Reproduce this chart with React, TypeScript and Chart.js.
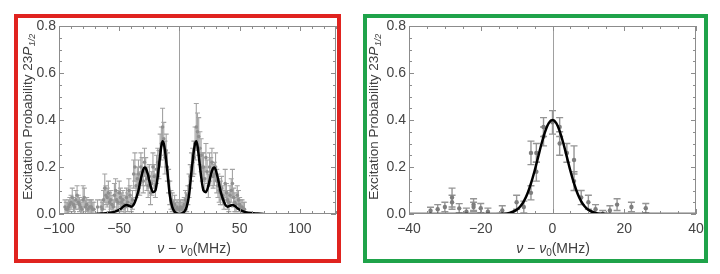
import React, { useEffect, useRef } from "react";
import { Chart, registerables } from "chart.js";
Chart.register(...registerables);

// ---------- Data (left panel) : even-MHz scan points ----------
const leftX = [-94,-92,-90,-88,-86,-84,-82,-80,-78,-76,-74,-72,-68,-64,-62,-60,-58,-56,-54,-52,-50,-48,-46,-44,-42,-40,-38,-36,-34,-32,-30,-28,-26,-24,-22,-20,-18,-16,-14,-12,-10,-8,-6,-4,-2,0,2,4,6,8,10,12,14,16,18,20,22,24,26,28,30,32,34,36,38,40,42,44,46,48,50,52,54];
const leftY = [0.02,0.03,0.05,0.04,0.06,0.05,0.03,0.06,0.03,0.02,0.03,0.02,0.03,0.02,0.11,0.07,0.05,0.04,0.08,0.06,0.09,0.05,0.04,0.07,0.1,0.04,0.17,0.12,0.17,0.2,0.14,0.18,0.12,0.09,0.2,0.12,0.22,0.27,0.37,0.24,0.2,0.09,0.05,0.04,0.03,0.02,0.02,0.04,0.05,0.12,0.2,0.24,0.37,0.33,0.25,0.2,0.24,0.12,0.18,0.16,0.2,0.12,0.09,0.08,0.13,0.06,0.08,0.13,0.05,0.08,0.04,0.03,0.02];
const leftErr = [0.03,0.03,0.03,0.03,0.04,0.03,0.03,0.06,0.03,0.03,0.03,0.03,0.03,0.03,0.06,0.04,0.04,0.04,0.05,0.04,0.05,0.04,0.04,0.04,0.05,0.03,0.06,0.05,0.06,0.06,0.05,0.06,0.05,0.05,0.06,0.05,0.06,0.07,0.08,0.07,0.06,0.05,0.04,0.04,0.03,0.03,0.03,0.03,0.04,0.05,0.06,0.07,0.1,0.08,0.07,0.06,0.06,0.05,0.06,0.05,0.06,0.05,0.05,0.04,0.06,0.04,0.04,0.06,0.04,0.04,0.03,0.03,0.03];
// ---------- Data (left panel) : odd-MHz scan points ----------
const leftXOdd = [-95,-93,-91,-89,-87,-85,-83,-81,-79,-77,-75,-73,-71,-65,-63,-61,-59,-57,-55,-53,-51,-49,-47,-45,-43,-41,-39,-37,-35,-33,-31,-29,-27,-25,-23,-21,-19,-17,-15,-13,-11,-9,-7,-5,-3,-1,1,3,5,7,9,11,13,15,17,19,21,23,25,27,29,31,33,35,37,39,41,43,45,47,49,51,53];
const leftYOdd = [0.03,0.02,0.04,0.07,0.03,0.08,0.04,0.02,0.07,0.04,0.03,0.03,0.02,0.03,0.06,0.08,0.09,0.06,0.03,0.1,0.05,0.07,0.06,0.03,0.05,0.08,0.06,0.2,0.15,0.13,0.18,0.22,0.15,0.16,0.13,0.16,0.19,0.21,0.3,0.32,0.27,0.14,0.06,0.03,0.02,0.02,0.03,0.03,0.06,0.08,0.16,0.22,0.3,0.35,0.28,0.2,0.15,0.18,0.2,0.22,0.17,0.14,0.1,0.11,0.06,0.09,0.05,0.1,0.07,0.04,0.06,0.03,0.02];
const leftErrOdd = [0.03,0.03,0.03,0.04,0.03,0.04,0.03,0.03,0.04,0.03,0.03,0.03,0.03,0.03,0.04,0.04,0.05,0.04,0.03,0.05,0.04,0.04,0.04,0.03,0.04,0.04,0.04,0.06,0.05,0.05,0.06,0.06,0.05,0.05,0.05,0.05,0.06,0.06,0.07,0.07,0.07,0.05,0.04,0.03,0.03,0.03,0.03,0.03,0.04,0.04,0.05,0.06,0.07,0.08,0.07,0.06,0.05,0.05,0.06,0.06,0.05,0.05,0.05,0.05,0.04,0.04,0.04,0.05,0.04,0.03,0.04,0.03,0.03];
const leftCurveX = [-70,-65,-60,-55,-52,-50,-48,-46,-44,-42,-40,-38,-36,-34,-32,-30,-29,-28,-26,-24,-22,-20,-18,-16,-15,-14,-13,-12,-10,-8,-6,-4,-2,0,2,4,6,8,10,12,13,14,15,16,18,20,22,24,26,28,29,30,32,34,36,38,40,42,44,46,48,50,52,55,60,65,70];
const leftCurveY = [0.0,0.002,0.004,0.008,0.013,0.018,0.025,0.034,0.038,0.035,0.031,0.04,0.065,0.1,0.15,0.19,0.198,0.195,0.165,0.12,0.093,0.1,0.16,0.25,0.29,0.31,0.3,0.27,0.18,0.08,0.03,0.01,0.003,0.0,0.003,0.01,0.03,0.08,0.18,0.27,0.3,0.31,0.29,0.25,0.16,0.1,0.093,0.12,0.165,0.195,0.198,0.19,0.15,0.1,0.065,0.04,0.031,0.035,0.038,0.034,0.025,0.018,0.013,0.008,0.004,0.002,0.0];
const leftXTicks = [-100, -50, 0, 50, 100];

// ---------- Data (right panel) ----------
const rightX = [-34,-32,-30,-28,-28,-26,-24,-22,-22,-20,-18,-14,-10,-8,-6,-6,-4.5,-4.5,-2.5,-2.5,0,2,2,4,6,6,8,10,12,14,16,18,22,26];
const rightY = [0.014,0.02,0.03,0.07,0.05,0.024,0.01,0.04,0.03,0.025,0.01,0.015,0.05,0.03,0.09,0.26,0.18,0.26,0.33,0.37,0.39,0.3,0.37,0.26,0.23,0.14,0.07,0.05,0.02,0.0,0.015,0.04,0.03,0.025];
const rightErr = [0.015,0.02,0.02,0.04,0.03,0.02,0.015,0.025,0.02,0.02,0.015,0.02,0.03,0.025,0.03,0.05,0.04,0.04,0.04,0.04,0.05,0.05,0.04,0.04,0.06,0.04,0.03,0.03,0.02,0.015,0.02,0.025,0.02,0.02];
const rightCurveX = [-40,-30,-20,-16,-14,-12,-10,-9,-8,-7,-6,-5,-4,-3,-2,-1,0,1,2,3,4,5,6,7,8,9,10,12,14,16,20,30,40];
const rightCurveY = [0,0,0,0.0002,0.001,0.0044,0.0176,0.032,0.054,0.086,0.13,0.183,0.243,0.302,0.353,0.388,0.4,0.388,0.353,0.302,0.243,0.183,0.13,0.086,0.054,0.032,0.0176,0.0044,0.001,0.0002,0,0,0];
const rightXTicks = [-40, -20, 0, 20, 40];

const yTicks = [0, 0.2, 0.4, 0.6, 0.8];

const FONT = "'Liberation Sans', Arial, sans-serif";
const TEXT = "#444444";
const GRAY = "#8c8c8c";

type Panel = {
  xMin: number; xMax: number; xTicks: number[]; xMinor: number;
  xs: number[]; ys: number[]; errs: number[];
  cx: number[]; cy: number[];
  yAxisW: number; cap: number; yTitleX: number; xTitleX: number;
  barColor: string; barWidth: number; ptColor: string; ptRadius: number;
};

function fmt(v: number) {
  return v < 0 ? "\u2212" + Math.abs(v) : String(v);
}

function makeDecor(p: Panel) {
  return {
    id: "decor",
    beforeDatasetsDraw(chart: any) {
      const { ctx, chartArea: a, scales } = chart;
      const x = scales.x, y = scales.y;
      ctx.save();
      ctx.beginPath();
      ctx.rect(a.left, a.top, a.right - a.left, a.bottom - a.top);
      ctx.clip();
      const x0 = Math.round(x.getPixelForValue(0)) + 0.5;
      ctx.strokeStyle = "#a0a0a0";
      ctx.lineWidth = 1;
      ctx.beginPath(); ctx.moveTo(x0, a.top); ctx.lineTo(x0, a.bottom); ctx.stroke();
      ctx.strokeStyle = p.barColor;
      ctx.lineWidth = p.barWidth;
      for (let i = 0; i < p.xs.length; i++) {
        const px = x.getPixelForValue(p.xs[i]);
        const lo = y.getPixelForValue(p.ys[i] - p.errs[i]);
        const hi = y.getPixelForValue(p.ys[i] + p.errs[i]);
        ctx.beginPath();
        ctx.moveTo(px, lo); ctx.lineTo(px, hi);
        ctx.moveTo(px - p.cap, lo); ctx.lineTo(px + p.cap, lo);
        ctx.moveTo(px - p.cap, hi); ctx.lineTo(px + p.cap, hi);
        ctx.stroke();
      }
      ctx.restore();
    },
    afterDraw(chart: any) {
      const { ctx, chartArea: a, scales } = chart;
      const x = scales.x, y = scales.y;
      ctx.save();
      ctx.strokeStyle = GRAY;
      ctx.lineWidth = 1;
      ctx.strokeRect(a.left + 0.5, a.top + 0.5, a.right - a.left - 1, a.bottom - a.top - 1);
      ctx.beginPath();
      for (let v = Math.ceil(p.xMin / p.xMinor) * p.xMinor; v <= p.xMax + 1e-9; v += p.xMinor) {
        const major = p.xTicks.some((t) => Math.abs(t - v) < 1e-9);
        const len = major ? 5 : 3;
        const px = Math.round(x.getPixelForValue(v)) + 0.5;
        ctx.moveTo(px, a.bottom); ctx.lineTo(px, a.bottom - len);
        ctx.moveTo(px, a.top); ctx.lineTo(px, a.top + len);
      }
      for (let k = 0; k <= 16; k++) {
        const v = k * 0.05;
        const major = k % 4 === 0;
        const len = major ? 5 : 3;
        const py = Math.round(y.getPixelForValue(v)) + 0.5;
        ctx.moveTo(a.left, py); ctx.lineTo(a.left + len, py);
        ctx.moveTo(a.right, py); ctx.lineTo(a.right - len, py);
      }
      ctx.stroke();

      // Y axis title (rotated, rich text)
      ctx.fillStyle = "#404040";
      ctx.textBaseline = "alphabetic";
      const fs = 13.5;
      const nf = `${fs}px ${FONT}`;
      const itf = `italic ${fs}px ${FONT}`;
      const sf = `italic ${Math.round(fs * 0.7)}px ${FONT}`;
      const parts: [string, string, number][] = [
        ["Excitation Probability 23", nf, 0],
        ["P", itf, 0],
        ["1/2", sf, 3],
      ];
      let total = 0;
      for (const [t, f] of parts) { ctx.font = f; total += ctx.measureText(t).width; }
      const cyc = (a.top + a.bottom) / 2 - 3;
      ctx.save();
      ctx.translate(p.yTitleX + 4.5, cyc);
      ctx.rotate(-Math.PI / 2);
      let cx = -total / 2;
      for (const [t, f, dy] of parts) {
        ctx.font = f;
        ctx.fillText(t, cx, dy);
        cx += ctx.measureText(t).width + (t === "P" ? 0.5 : 0);
      }
      ctx.restore();

      // X axis title
      const xf = 14;
      const xparts: [string, string, number][] = [
        ["\u03bd", `italic ${xf}px ${FONT}`, 0],
        [" \u2212 ", `${xf}px ${FONT}`, 0],
        ["\u03bd", `italic ${xf}px ${FONT}`, 0],
        ["0", `${Math.round(xf * 0.7)}px ${FONT}`, 3],
        ["(MHz)", `${xf}px ${FONT}`, 0],
      ];
      let xt = 0;
      for (const [t, f] of xparts) { ctx.font = f; xt += ctx.measureText(t).width; }
      let xx = p.xTitleX - xt / 2;
      for (const [t, f, dy] of xparts) {
        ctx.font = f;
        ctx.fillText(t, xx, 253 + dy);
        xx += ctx.measureText(t).width;
      }
      ctx.restore();
    },
  };
}

function PanelChart({ p, left }: { p: Panel; left: number }) {
  const ref = useRef<HTMLCanvasElement | null>(null);
  useEffect(() => {
    if (!ref.current) return;
    const chart = new Chart(ref.current, {
      type: "scatter",
      data: {
        datasets: [
          {
            data: p.cx.map((v, i) => ({ x: v, y: p.cy[i] })),
            showLine: true,
            borderColor: "#000000",
            borderWidth: 2.5,
            pointRadius: 0,
            cubicInterpolationMode: "monotone",
            fill: false,
          } as any,
          {
            data: p.xs.map((v, i) => ({ x: v, y: p.ys[i] })),
            pointRadius: p.ptRadius,
            pointBackgroundColor: p.ptColor,
            pointBorderWidth: 0,
            showLine: false,
          } as any,
        ],
      },
      options: {
        responsive: false,
        animation: false,
        devicePixelRatio: 1,
        events: [],
        layout: { padding: { top: 26, right: 24, left: 0, bottom: 0 } },
        plugins: { legend: { display: false }, tooltip: { enabled: false } },
        scales: {
          x: {
            type: "linear",
            min: p.xMin,
            max: p.xMax,
            grid: { display: false, drawTicks: false },
            border: { display: false },
            afterBuildTicks: (s: any) => { s.ticks = p.xTicks.map((v) => ({ value: v })); },
            afterFit: (s: any) => { s.height = 60; },
            ticks: {
              autoSkip: false,
              maxRotation: 0,
              padding: 7,
              color: TEXT,
              font: { family: FONT, size: 14 },
              callback: (v: any) => fmt(Number(v)),
            },
          },
          y: {
            type: "linear",
            min: 0,
            max: 0.8,
            grid: { display: false, drawTicks: false },
            border: { display: false },
            afterBuildTicks: (s: any) => { s.ticks = yTicks.map((v) => ({ value: v })); },
            afterFit: (s: any) => { s.width = p.yAxisW; },
            ticks: {
              padding: 3,
              color: TEXT,
              font: { family: FONT, size: 14 },
              callback: (v: any) => Number(v).toFixed(1),
            },
          },
        },
      } as any,
      plugins: [makeDecor(p)],
    });
    return () => chart.destroy();
  }, [p]);
  return (
    <canvas
      ref={ref}
      width={360}
      height={274}
      style={{ position: "absolute", left, top: 0, width: 360, height: 274 }}
    />
  );
}

const leftPanel: Panel = {
  xMin: -100, xMax: 130, xTicks: leftXTicks, xMinor: 10,
  xs: leftX.concat(leftXOdd), ys: leftY.concat(leftYOdd), errs: leftErr.concat(leftErrOdd),
  cx: leftCurveX, cy: leftCurveY,
  yAxisW: 59, cap: 2.5, yTitleX: 27, xTitleX: 194,
  barColor: "#a3a3a3", barWidth: 1.1, ptColor: "#8f8f8f", ptRadius: 1.8,
};
const rightPanel: Panel = {
  xMin: -40, xMax: 40, xTicks: rightXTicks, xMinor: 5,
  xs: rightX, ys: rightY, errs: rightErr, cx: rightCurveX, cy: rightCurveY,
  yAxisW: 49, cap: 3.5, yTitleX: 13, xTitleX: 193,
  barColor: "#959595", barWidth: 1.4, ptColor: "#7d7d7d", ptRadius: 2.2,
};

export default function App() {
  return (
    <div style={{ position: "fixed", left: 0, top: 0, width: 720, height: 274, background: "#ffffff", overflow: "hidden" }}>
      <PanelChart p={leftPanel} left={0} />
      <PanelChart p={rightPanel} left={360} />
      <div style={{ position: "absolute", left: 14, top: 14, width: 327, height: 249, boxSizing: "border-box", border: "4px solid #e0231f" }} />
      <div style={{ position: "absolute", left: 363, top: 14, width: 345, height: 249, boxSizing: "border-box", border: "4px solid #1fa34a" }} />
    </div>
  );
}
